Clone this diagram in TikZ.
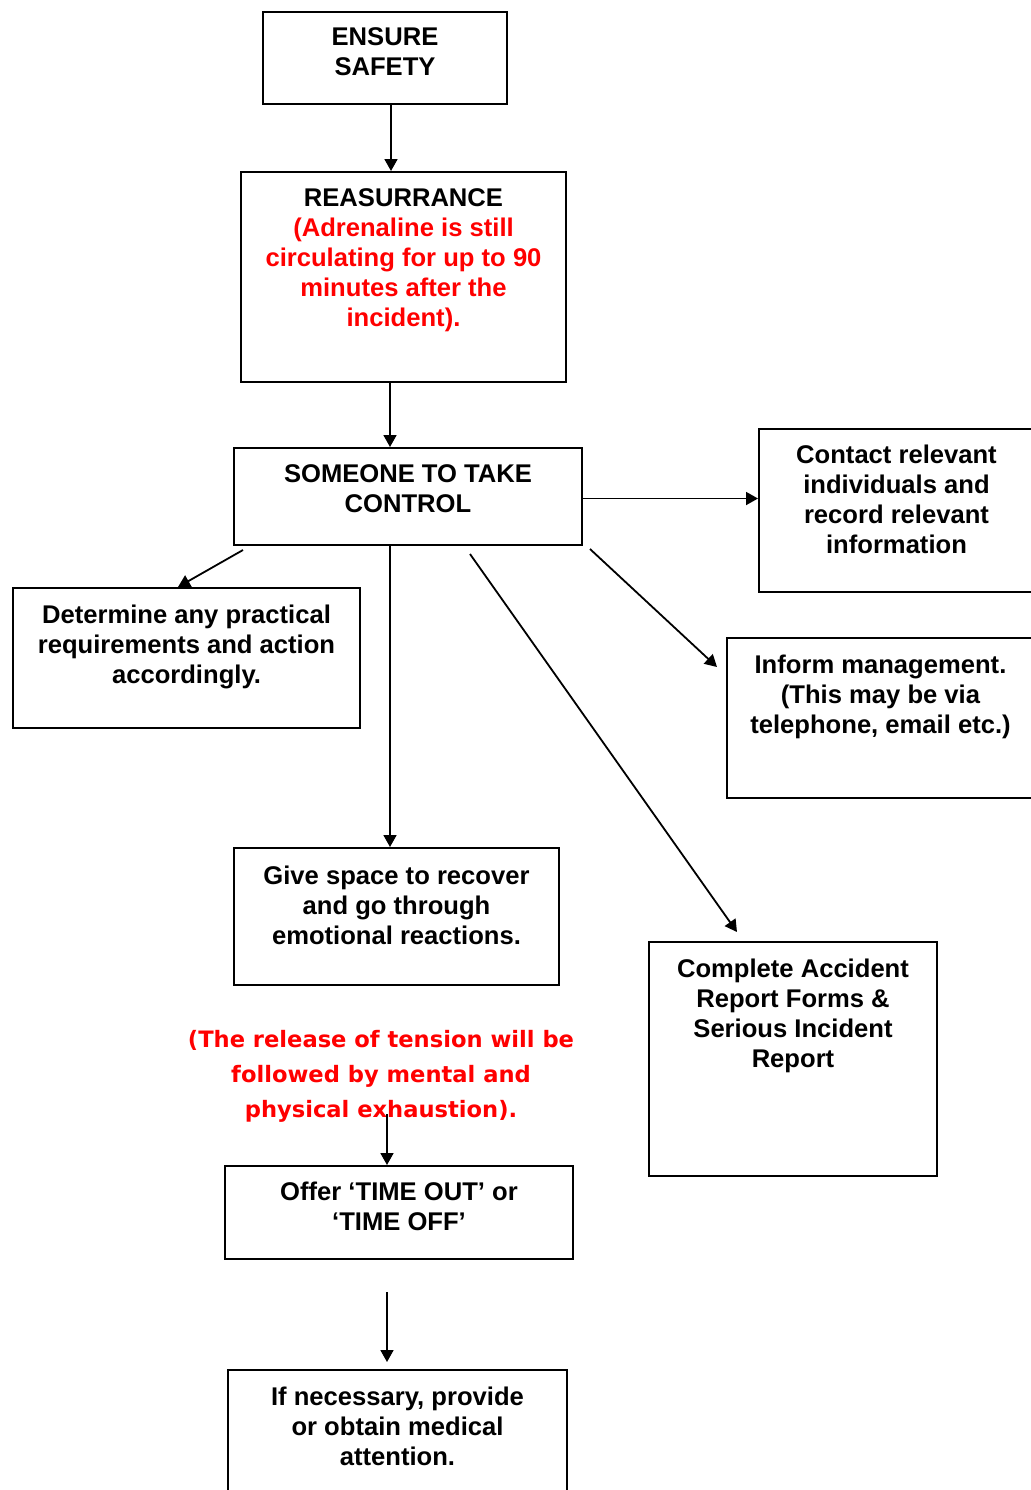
\documentclass[tikz,border=0pt]{standalone}
\usepackage{fontspec}
\setmainfont{Liberation Sans}
\newfontfamily\notefont{DejaVu Sans}
\usetikzlibrary{arrows.meta}
\definecolor{notered}{RGB}{255,0,0}
\begin{document}
\begin{tikzpicture}[x=0.5pt,y=-0.5pt,
  box/.style={draw, line width=1pt, inner sep=0pt, anchor=north west},
  txt/.style={inner sep=0pt, anchor=north, align=center,
    font=\fontsize{12.8pt}{15pt}\selectfont\bfseries},
  arr/.style={line width=0.9pt, -{Triangle[length=6pt,width=6.5pt]}},
  note/.style={inner sep=0pt, anchor=north, align=center, text=notered,
    font=\fontsize{11.3pt}{17.5pt}\selectfont\notefont\bfseries}]
\useasboundingbox (0,0) rectangle (1031,1490);

% boxes
\node[box, minimum width=122pt, minimum height=46pt] (ensure) at (262,11) {};
\node[box, minimum width=162.5pt, minimum height=105pt] (reassure) at (240,171) {};
\node[box, minimum width=174pt, minimum height=48.5pt] (control) at (233,447) {};
\node[box, minimum width=137.5pt, minimum height=81.5pt] (contact) at (758,428) {};
\node[box, minimum width=153.5pt, minimum height=80pt] (inform) at (726,637) {};
\node[box, minimum width=173.5pt, minimum height=70pt] (determine) at (12,587) {};
\node[box, minimum width=162.5pt, minimum height=68.5pt] (give) at (233,847) {};
\node[box, minimum width=144pt, minimum height=117pt] (complete) at (648,941) {};
\node[box, minimum width=174pt, minimum height=46.5pt] (offer) at (224,1165) {};
\node[box, minimum width=169.5pt, minimum height=66pt] (medical) at (227,1369) {};

% texts
\node[txt] (ensuret) at ([shift={(0,13)}]ensure.north) {\strut ENSURE\\SAFETY};
\node[txt] (reassuret) at ([shift={(0,14)}]reassure.north) {\strut REASURRANCE\\
  \textcolor{notered}{(Adrenaline is still}\\
  \textcolor{notered}{circulating for up to 90}\\
  \textcolor{notered}{minutes after the}\\
  \textcolor{notered}{incident).}};
\node[txt] (controlt) at ([shift={(0,14)}]control.north) {\strut SOMEONE TO TAKE\\CONTROL};
\node[txt] (contactt) at ([shift={(0,14)}]contact.north) {\strut Contact relevant\\individuals and\\record relevant\\information};
\node[txt] (informt) at ([shift={(0,15)}]inform.north) {\strut Inform management.\\(This may be via\\telephone, email etc.)};
\node[txt] (determinet) at ([shift={(0,15)}]determine.north) {\strut Determine any practical\\requirements and action\\accordingly.};
\node[txt] (givet) at ([shift={(0,16)}]give.north) {\strut Give space to recover\\and go through\\emotional reactions.};
\node[txt] (completet) at ([shift={(0,15)}]complete.north) {\strut Complete Accident\\Report Forms \&\\Serious Incident\\Report};
\node[txt] (offert) at ([shift={(0,14)}]offer.north) {\strut Offer ‘TIME OUT’ or\\‘TIME OFF’};
\node[txt] (medicalt) at ([shift={(0,15)}]medical.north) {\strut If necessary, provide\\or obtain medical\\attention.};

\node[note] (notet) at (381,1023) {\strut(The release of tension will be\\followed by mental and\\physical exhaustion).};

% free ends
\coordinate (n1) at (387,1114);
\coordinate (o1) at (387,1292);
\coordinate (m1) at (387,1362);

% connectors
\draw[arr] ([xshift=3pt]ensure.south) -- ([xshift=3pt]ensure.south |- reassure.north);
\draw[arr] ([xshift=-6.75pt]reassure.south) -- ([xshift=-6.75pt]reassure.south |- control.north);
\draw[arr] ([shift={(0,2)}]control.east) -- ([shift={(0,2)}]control.east -| contact.west);
\draw[arr] ([shift={(7,3)}]control.south east) -- ([shift={(-9,30)}]inform.north west);
\draw[arr] ([shift={(10,4)}]control.south west) -- ([shift={(166,0)}]determine.north west);
\draw[arr] ([xshift=-9pt]control.south) -- ([xshift=-9pt]control.south |- give.north);
\draw[arr] ([shift={(237,8)}]control.south west) -- ([shift={(89,-9)}]complete.north west);
\draw[arr] (n1) -- (n1 |- offer.north);
\draw[arr] (o1) -- (m1);
\end{tikzpicture}
\end{document}
